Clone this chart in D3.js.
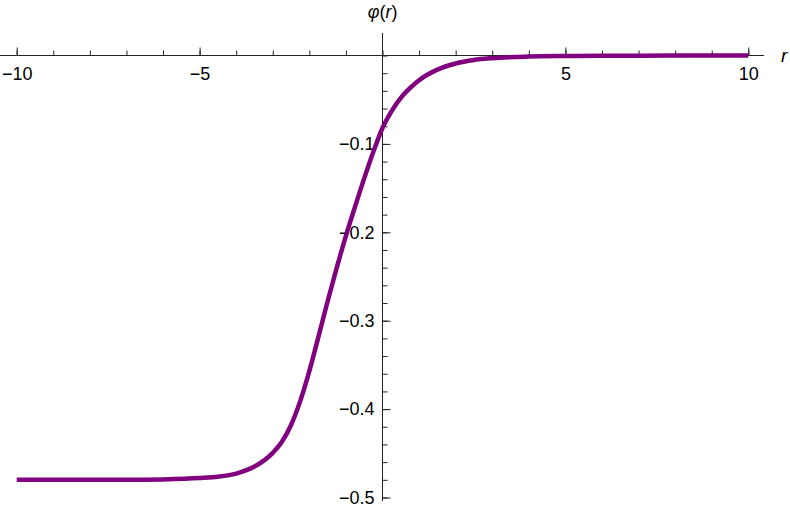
<!DOCTYPE html>
<html>
<head>
<meta charset="utf-8">
<script src="https://d3js.org/d3.v7.min.js"></script>
<style>
    body { margin: 0; background: #fff; }
    svg text { font-family: "Liberation Sans", Arial, sans-serif; fill: #000; }
</style>
</head>
<body>
<div id="chart"></div>
<script>
    // curve samples
    var rVals = [-10, -9, -8, -7, -6, -5, -4.5, -4, -3.5, -3, -2.75, -2.5, -2.25, -2, -1.75, -1.5, -1.25, -1, -0.75, -0.5, -0.25, 0, 0.25, 0.5, 0.75, 1, 1.5, 2, 2.5, 3, 4, 5, 6, 8, 10];
    var phiVals = [-0.480, -0.480, -0.480, -0.480, -0.4795, -0.478, -0.4765, -0.473, -0.465, -0.4495, -0.437, -0.418, -0.391, -0.357, -0.318, -0.278, -0.240, -0.204, -0.171, -0.139, -0.109, -0.082, -0.063, -0.048, -0.037, -0.028, -0.016, -0.0090, -0.0050, -0.0030, -0.0012, -0.0006, -0.0003, -0.0001, 0];

    var xMajor = [-10, -5, 5, 10];
    var xMinor = d3.range(-10, 11, 1);
    var yMajor = [-0.1, -0.2, -0.3, -0.4, -0.5];
    var yMinor = d3.range(-50, 2, 2).map(function(d){ return d / 100; });

    var width = 790;
    var height = 508;

    var x = d3.scaleLinear()
        .domain([-10, 10])
        .range([16.7, 748.3]);

    var y = d3.scaleLinear()
        .domain([0, -0.5])
        .range([55.5, 497.5]);

    var svg = d3.select('#chart').append('svg')
        .attr('width', width)
        .attr('height', height);

    var axisColor = '#222';

    // axis lines
    svg.append('line')
        .attr('x1', 0).attr('x2', 764)
        .attr('y1', y(0)).attr('y2', y(0))
        .attr('stroke', axisColor);
    svg.append('line')
        .attr('x1', x(0)).attr('x2', x(0))
        .attr('y1', 33).attr('y2', 501)
        .attr('stroke', axisColor);

    // x ticks (pointing up, labels below)
    svg.append('g')
        .attr('transform', 'translate(0,' + y(0) + ')')
        .call(d3.axisBottom(x).tickValues(xMinor).tickSize(-5).tickFormat(''));
    svg.append('g')
        .attr('transform', 'translate(0,' + y(0) + ')')
        .call(d3.axisBottom(x).tickValues(xMajor).tickSize(-8).tickPadding(12).tickFormat(d3.format('d')));

    // y ticks (pointing right, labels left)
    svg.append('g')
        .attr('transform', 'translate(' + x(0) + ',0)')
        .call(d3.axisLeft(y).tickValues(yMinor).tickSize(-5).tickFormat(''));
    svg.append('g')
        .attr('transform', 'translate(' + x(0) + ',0)')
        .call(d3.axisLeft(y).tickValues(yMajor).tickSize(-8).tickPadding(8).tickFormat(d3.format('.1f')));

    svg.selectAll('.domain').remove();
    svg.selectAll('.tick line').attr('stroke', axisColor);
    svg.selectAll('.tick text')
        .style('font-size', '18px')
        .attr('fill', '#000');

    // curve
    var pts = rVals.map(function(r, i){ return [r, phiVals[i]]; });
    var line = d3.line()
        .x(function(d){ return x(d[0]); })
        .y(function(d){ return y(d[1]); })
        .curve(d3.curveMonotoneX);

    svg.append('path')
        .datum(pts)
        .attr('d', line)
        .attr('fill', 'none')
        .attr('stroke', '#800080')
        .attr('stroke-width', 4.5);

    // axis labels
    svg.append('text')
        .attr('x', 781)
        .attr('y', 62)
        .style('font-size', '19px')
        .style('font-style', 'italic')
        .text('r');

    var yl = svg.append('text')
        .attr('x', x(0))
        .attr('y', 18)
        .attr('text-anchor', 'middle')
        .style('font-size', '18px');
    yl.append('tspan').style('font-style', 'italic').text('φ');
    yl.append('tspan').text('(');
    yl.append('tspan').style('font-style', 'italic').text('r');
    yl.append('tspan').text(')');
</script>
</body>
</html>
